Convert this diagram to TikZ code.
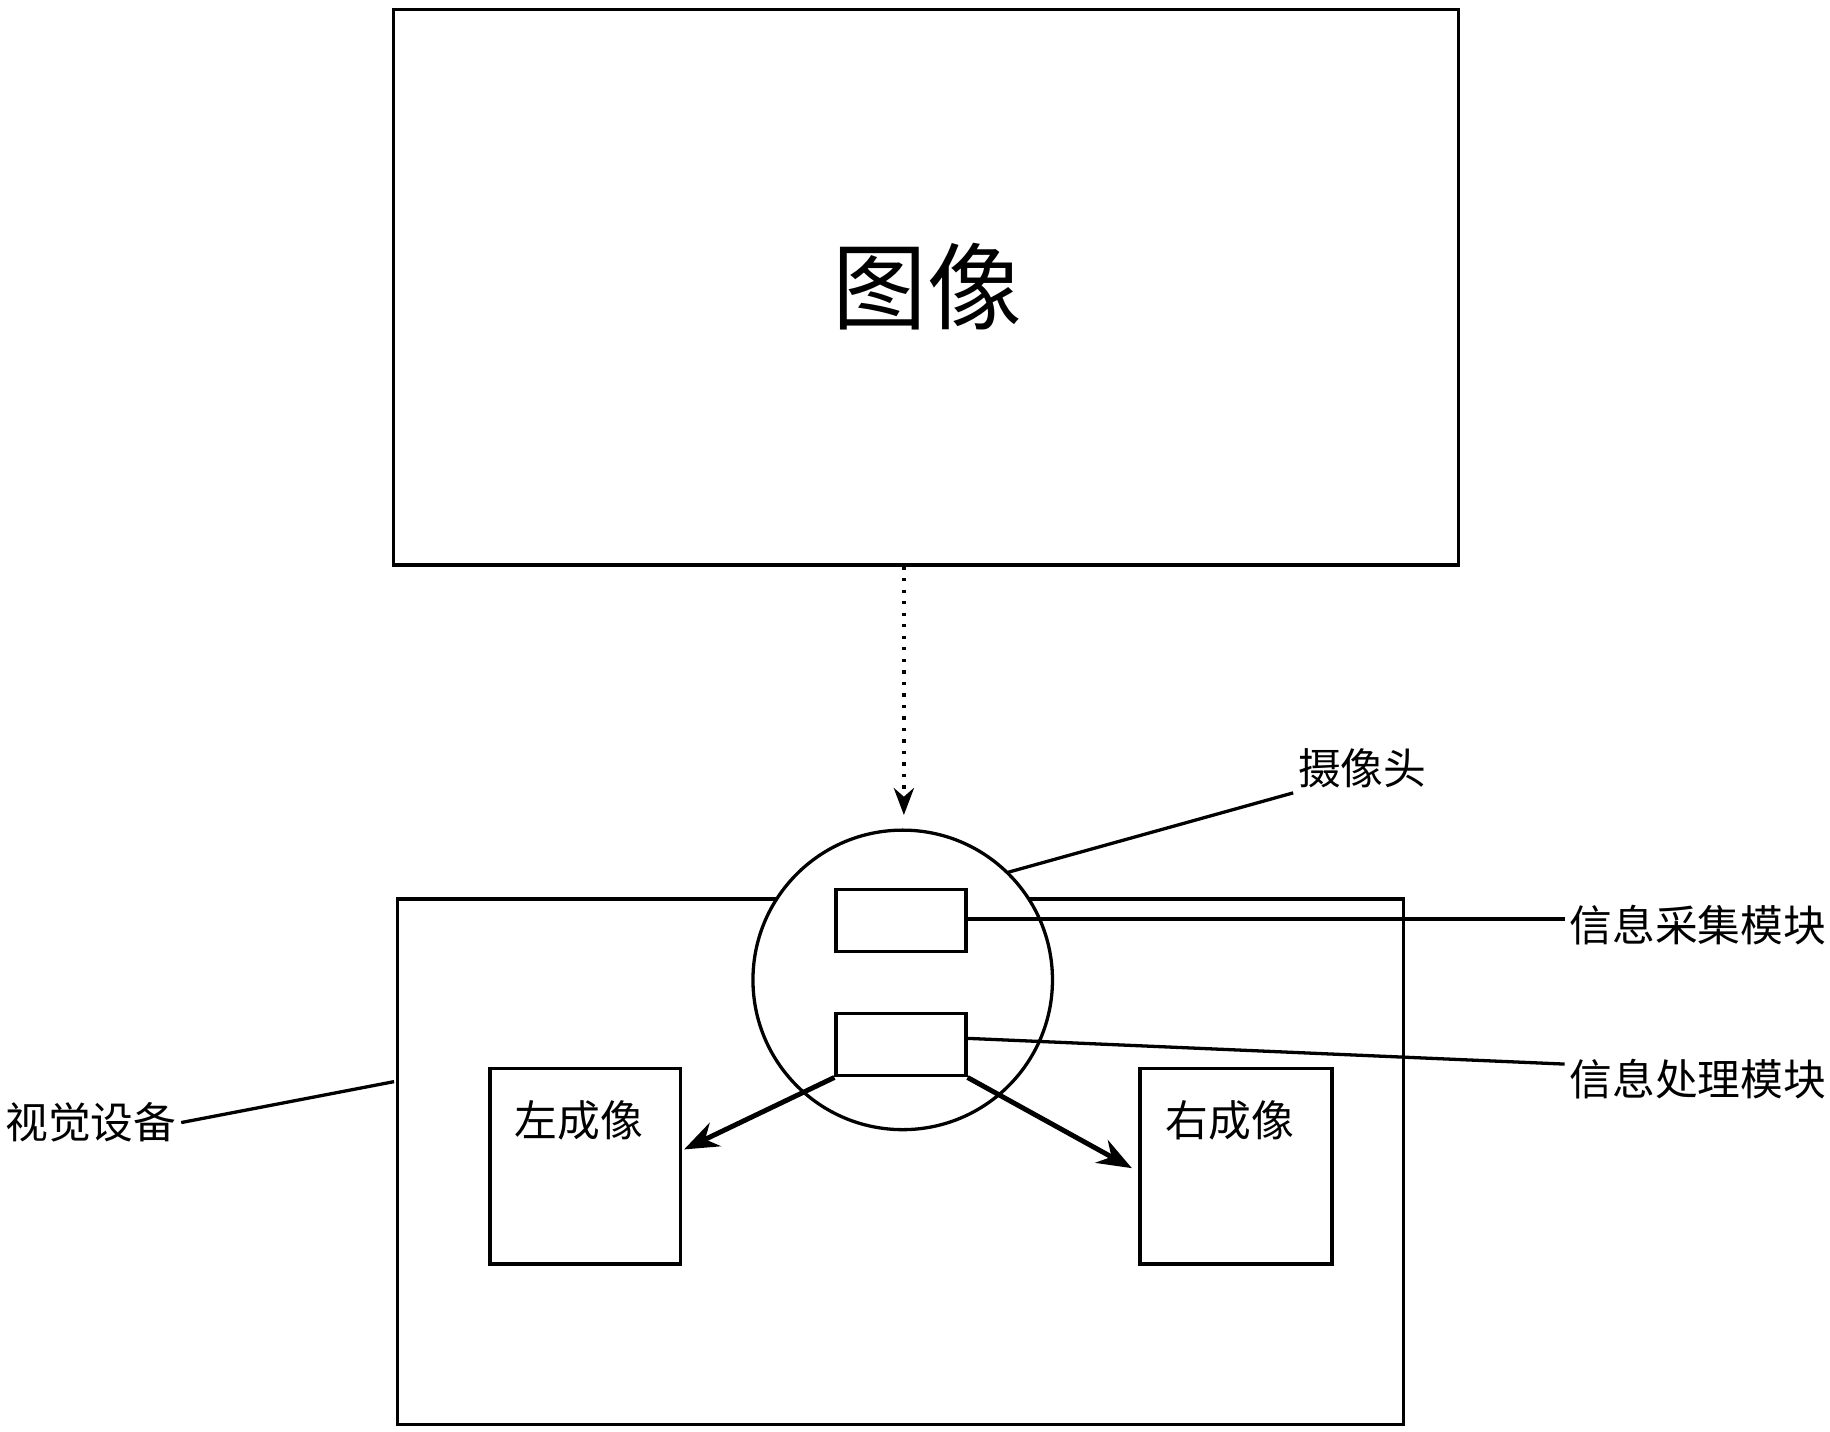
\documentclass[tikz,border=0pt]{standalone}
\usepackage{fontspec}
\setmainfont{Noto Sans CJK SC}
\usetikzlibrary{arrows.meta,positioning,calc}

\begin{document}
\begin{tikzpicture}[
  x=0.01cm, y=-0.01cm,
  >=Stealth,
  box/.style={draw, thick, rectangle, inner sep=0pt},
  lab/.style={font=\fontsize{10.4pt}{12pt}\selectfont, inner sep=1pt},
  lead/.style={thick},
  flow/.style={->, very thick}
]
\useasboundingbox (0,0) rectangle (1565,1224);

% target image
\node[box, minimum width=9.10cm, minimum height=4.75cm] (img) at (792,245.5) {};
\node[font=\fontsize{23pt}{27pt}\selectfont] (imgtxt) at (793,245) {图像};

% vision device
\node[box, minimum width=8.60cm, minimum height=4.49cm] (dev) at (770,993.5) {};
\node[box, minimum width=1.63cm, minimum height=1.67cm] (left) at (500.5,997.5) {};
\node[box, minimum width=1.64cm, minimum height=1.67cm] (right) at (1057,997.5) {};
\node[lab] (lefttxt) at (495,958) {左成像};
\node[lab] (righttxt) at (1052,958) {右成像};

% camera
\node[draw, thick, circle, fill=white, minimum size=2.56cm] (cam) at (772,838) {};
\node[box, minimum width=1.11cm, minimum height=0.53cm] (acq) at (770.5,787.5) {};
\node[box, minimum width=1.11cm, minimum height=0.53cm] (proc) at (770.5,893.5) {};
\coordinate (camtop) at (773,697);
\draw[->, thick, dotted] (img.south -| camtop) -- (camtop);

\draw[flow] (proc.south west) -- (585,983);
\draw[flow] (proc.south east) -- (968,999);

% labels
\node[lab] (camlab) at (1165,657) {摄像头};
\node[lab, anchor=west] (acqlab) at (1338,791) {信息采集模块};
\node[lab, anchor=west] (proclab) at (1338,923) {信息处理模块};
\node[lab, anchor=east] (devlab) at (155,960) {视觉设备};
\coordinate (camlead) at (862,746);
\coordinate (devlead) at (337,925);
\draw[lead] (camlead) -- (camlab.south west);
\draw[lead] (acq.east |- 0,786) -- (acqlab.west |- 0,786);
\draw[lead] (proc.east |- 0,888) -- (proclab.west |- 0,910);
\draw[lead] (devlab.east) -- (devlead);
\end{tikzpicture}
\end{document}
